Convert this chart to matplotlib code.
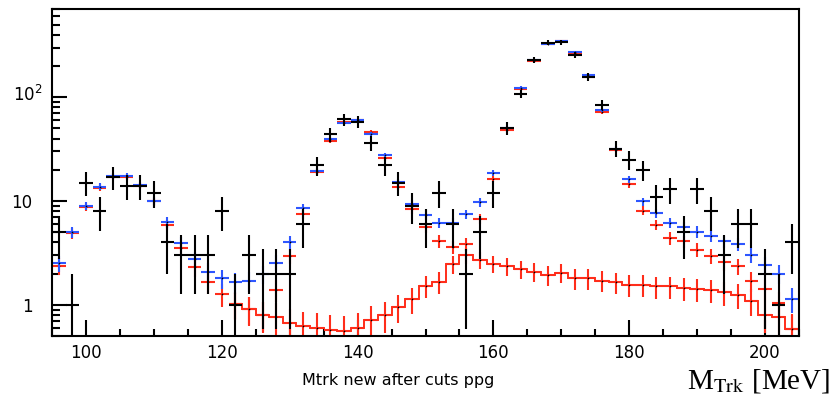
import numpy as np
import matplotlib
matplotlib.use("Agg")
import matplotlib.pyplot as plt
from matplotlib.ticker import FixedLocator, NullFormatter, MultipleLocator
from matplotlib.transforms import ScaledTranslation

plt.rcParams['mathtext.fontset'] = 'stix'

# bin centres (2 MeV bins from 95 to 205)
mass = np.arange(96, 205, 2)

# data (counts)
data = [5, 1, 15, 8, 17, 14, 14, 12, 4, 3,
        3, 3, 8, 1, 3, 2, 2, 2, 6, 22,
        44, 61, 58, 36, 22, 15, 9, 6, 12, 6,
        2, 5, 12, 50, 108, 227, 335, 340, 257, 157,
        85, 32, 25, 20, 11, 13, 5, 13, 8, 3,
        6, 6, 2, 1, 4]

# MC total (blue)
mc_blue = [2.52, 5.0, 8.95, 13.7, 17.5, 17.5, 14.3, 10.1, 6.24, 3.92,
           2.75, 2.09, 1.80, 1.64, 1.70, 1.97, 2.55, 4.0, 8.5, 19.6,
           39.2, 56.6, 60.0, 44.6, 27.5, 15.2, 9.35, 7.4, 6.2, 6.2,
           7.45, 9.7, 18.7, 50.7, 124, 227, 328, 348, 273, 163,
           75, 32, 16.2, 9.9, 7.6, 6.2, 5.66, 5.07, 4.6, 4.07,
           3.88, 3.0, 2.42, 2.0, 1.14]

# MC fit (red)
mc_red = [2.37, 4.9, 8.8, 13.4, 17.2, 17.2, 14.0, 9.9, 5.9, 3.5,
          2.3, 1.64, 1.28, 1.02, 0.91, 0.80, 1.39, 2.96, 7.45, 18.9,
          38.0, 57.5, 60.0, 46.0, 25.7, 13.7, 8.3, 5.6, 4.1, 3.6,
          3.85, 6.7, 16.3, 48.5, 120, 222, 322, 345, 265, 157,
          72, 31, 14.5, 8.07, 5.9, 4.4, 4.07, 3.38, 2.95, 2.58,
          2.35, 1.7, 1.41, 1.05, 0.58]

# background component (red, lower)
bg_mass = np.arange(122, 205, 2)
bg = [1.02, 0.91, 0.80, 0.77, 0.67, 0.62, 0.60, 0.575, 0.555, 0.60,
      0.72, 0.80, 0.96, 1.14, 1.52, 1.66, 2.47, 3.0, 2.71, 2.48,
      2.37, 2.2, 2.09, 1.94, 2.04, 1.8, 1.8, 1.71, 1.64, 1.56,
      1.56, 1.5, 1.5, 1.45, 1.41, 1.39, 1.32, 1.25, 1.09, 0.80,
      0.76, 0.58]

blue = '#2e56ff'
red = '#ff2d1a'


def draw_points(ax, x, y, err, color, lw=1.5):
    y = np.asarray(y, dtype=float)
    lo = np.minimum(err, y * 0.999)
    ax.errorbar(x, y, xerr=1, yerr=[lo, err], fmt='none', ecolor=color,
                elinewidth=lw, capsize=0)
    ax.plot(x, y, 'o', color='k', ms=1.2, mew=0)


fig = plt.figure(figsize=(8.34, 4.11), dpi=100)
ax = fig.add_axes([52 / 834, 1 - 336 / 411, (799 - 52) / 834, (336 - 9.5) / 411])

bg_arr = np.asarray(bg)
ax.stairs(bg_arr, np.append(bg_mass - 1, bg_mass[-1] + 1), baseline=None,
          color=red, lw=1.4)
draw_points(ax, bg_mass, bg_arr, np.sqrt(0.09 * bg_arr), red)
draw_points(ax, mass, mc_red, np.sqrt(0.08 * np.asarray(mc_red)), red)
draw_points(ax, mass, mc_blue, np.sqrt(0.08 * np.asarray(mc_blue)), blue)
draw_points(ax, mass, data, np.sqrt(np.asarray(data, dtype=float)), 'k')

ax.set_yscale('log')
ax.set_xlim(95, 205)
ax.set_ylim(0.5, 700)

for s in ax.spines.values():
    s.set_linewidth(1.5)

ax.xaxis.set_major_locator(FixedLocator([100, 120, 140, 160, 180, 200]))
ax.xaxis.set_minor_locator(MultipleLocator(5))
ax.tick_params(axis='x', which='major', direction='in', length=11.5, width=1.5,
               labelsize=12, pad=6, top=False)
ax.tick_params(axis='x', which='minor', direction='in', length=5, width=1.5, top=False)

ax.yaxis.set_major_locator(FixedLocator([1, 10, 100]))
ax.set_yticklabels(['1', '10', r'$\mathregular{10^{2}}$'])
minor = [m * d for d in (0.1, 1, 10, 100) for m in range(2, 10)]
ax.yaxis.set_minor_locator(FixedLocator(minor))
ax.yaxis.set_minor_formatter(NullFormatter())
ax.tick_params(axis='y', which='major', direction='in', length=11, width=1.5,
               labelsize=12, pad=14, right=False)
ax.tick_params(axis='y', which='minor', direction='in', length=6, width=1.5, right=False)

lab = ax.get_yticklabels()[2]
lab.set_transform(lab.get_transform() + ScaledTranslation(10 / 100, 4 / 100, fig.dpi_scale_trans))

fig.text(398 / 834, 1 - 385 / 411, 'Mtrk new after cuts ppg', ha='center',
         va='baseline', fontsize=11.5)
fig.text(830 / 834, 1 - 388 / 411, r'M$_{\mathrm{Trk}}$ [MeV]', ha='right',
         va='baseline', fontsize=21, family='Liberation Serif')

fig.savefig('out.png', dpi=100)
